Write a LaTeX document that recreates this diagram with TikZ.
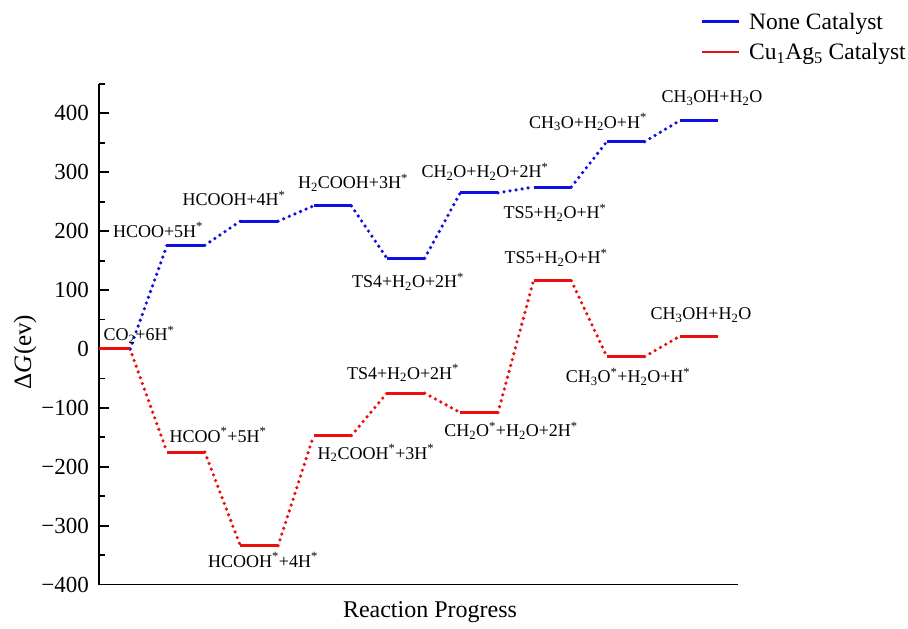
\documentclass[tikz,border=0pt]{standalone}
\usepackage{fontspec}
\setmainfont{Liberation Serif}
\definecolor{ncat}{RGB}{15,15,225}
\definecolor{ccat}{RGB}{235,15,15}
\newcommand{\ads}{\textsuperscript{*}}
\begin{document}
\begin{tikzpicture}[x=1pt, y=0.589pt,
  nivel/.style={line width=3pt},
  camino/.style={line width=3.6pt, line cap=round, dash pattern=on 0pt off 6.1pt},
  etiq/.style={inner sep=0pt, font=\fontsize{18}{20}\selectfont}]
  \useasboundingbox (0,-475.4) rectangle (908,592.5);
  % Ejes
  \draw[line width=1.8pt] (99,450) -- (99,-400) -- (738,-400);
  \foreach \v/\t in {400/400, 300/300, 200/200, 100/100, 0/0,
                     -100/−100, -200/−200, -300/−300, -400/−400} {
    \draw[line width=1.8pt] (99,\v) -- ++(10,0);
    \node[anchor=east, inner sep=0pt, font=\fontsize{23}{26}\selectfont] at (89,\v) {\t};
  }
  \foreach \v in {-350,-250,...,450}
    \draw[line width=1.8pt] (99,\v) -- ++(6,0);
  \node[rotate=90, font=\fontsize{25}{28}\selectfont] (ejey) at (25,-5) {Δ\textit{G}(ev)};
  \node[font=\fontsize{24}{28}\selectfont] (ejex) at (430,-446) {Reaction Progress};
  % Niveles de energía
  \coordinate (b0-r) at (130,0);
  \coordinate (r0-r) at (130,0);
  \foreach \i/\b/\r in {1/176/-175, 2/217/-334, 3/243/-147, 4/154/-75,
                        5/265/-108, 6/275/116, 7/352/-13, 8/388/22} {
    \coordinate (b\i-l) at ({93.7+73.3*\i},\b);
    \coordinate (b\i-r) at ({131.5+73.3*\i},\b);
    \coordinate (r\i-l) at ({93.7+73.3*\i},\r);
    \coordinate (r\i-r) at ({131.5+73.3*\i},\r);
  }
  % Caminos punteados
  \foreach \a/\z in {0/1,1/2,2/3,3/4,4/5,5/6,6/7,7/8} {
    \draw[camino, ccat] (r\a-r) -- (r\z-l);
    \draw[camino, ncat] (b\a-r) -- (b\z-l);
  }
  \draw[nivel, ccat] (99,0) -- (r0-r);
  \foreach \i in {1,...,8} {
    \draw[nivel, ncat] (b\i-l) -- (b\i-r);
    \draw[nivel, ccat] (r\i-l) -- (r\i-r);
  }
  % Etiquetas sin catalizador
  \node[etiq] (lb0) at (139,23.8) {CO\textsubscript{2}+6H\ads};
  \node[etiq] (lb1) at (158,202) {HCOO+5H\ads};
  \node[etiq] (lb2) at (234,256) {HCOOH+4H\ads};
  \node[etiq] (lb3) at (353,282) {H\textsubscript{2}COOH+3H\ads};
  \node[etiq] (lb4) at (408,114) {TS4+H\textsubscript{2}O+2H\ads};
  \node[etiq] (lb5) at (485,300.5) {CH\textsubscript{2}O+H\textsubscript{2}O+2H\ads};
  \node[etiq] (lb6) at (555,231) {TS5+H\textsubscript{2}O+H\ads};
  \node[etiq] (lb7) at (588,385) {CH\textsubscript{3}O+H\textsubscript{2}O+H\ads};
  \node[etiq] (lb8) at (712,426) {CH\textsubscript{3}OH+H\textsubscript{2}O};
  % Etiquetas Cu1Ag5
  \node[etiq] (lr1) at (218,-146) {HCOO\ads+5H\ads};
  \node[etiq] (lr2) at (263,-358) {HCOOH\ads+4H\ads};
  \node[etiq] (lr3) at (376,-177) {H\textsubscript{2}COOH\ads+3H\ads};
  \node[etiq] (lr4) at (403,-41) {TS4+H\textsubscript{2}O+2H\ads};
  \node[etiq] (lr5) at (511,-139) {CH\textsubscript{2}O\ads+H\textsubscript{2}O+2H\ads};
  \node[etiq] (lr6) at (556,154.5) {TS5+H\textsubscript{2}O+H\ads};
  \node[etiq] (lr7) at (628,-47.5) {CH\textsubscript{3}O\ads+H\textsubscript{2}O+H\ads};
  \node[etiq] (lr8) at (701,58) {CH\textsubscript{3}OH+H\textsubscript{2}O};
  % Leyenda
  \draw[ncat, line width=2.5pt] (702,556) -- (739,556);
  \draw[ccat, line width=2.5pt] (702,504.2) -- (739,504.2);
  \node[anchor=base west, inner sep=0pt, font=\fontsize{23.5}{28}\selectfont] (ley1) at (749,541.6) {None Catalyst};
  \node[anchor=base west, inner sep=0pt, font=\fontsize{23.5}{28}\selectfont] (ley2) at (749,490.7) {Cu\textsubscript{1}Ag\textsubscript{5} Catalyst};
\end{tikzpicture}
\end{document}
